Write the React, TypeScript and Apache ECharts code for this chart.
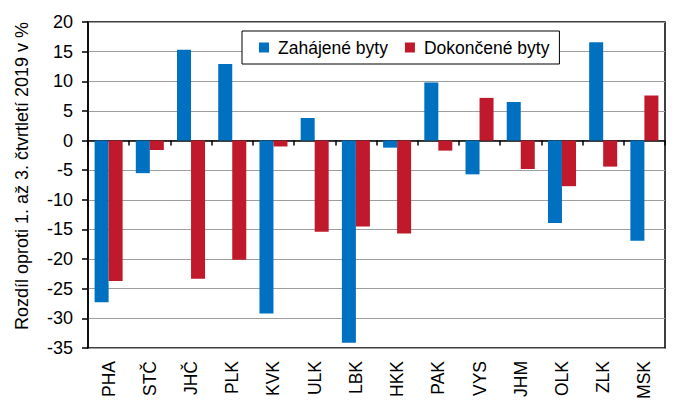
import React, { useEffect, useRef } from "react";
import * as echarts from "echarts";

const categories = ["PHA", "STČ", "JHČ", "PLK", "KVK", "ULK", "LBK", "HKK", "PAK", "VYS", "JHM", "OLK", "ZLK", "MSK"];
const zahajene = [-27.3, -5.5, 15.3, 12.9, -29.2, 3.8, -34.1, -1.2, 9.8, -5.7, 6.5, -13.9, 16.6, -16.9];
const dokoncene = [-23.7, -1.6, -23.3, -20.1, -1.0, -15.4, -14.5, -15.7, -1.7, 7.2, -4.8, -7.7, -4.4, 7.6];
const yAxisTitle = "Rozdíl oproti 1. až 3. čtvrtletí 2019 v %";

const FONT = "'Liberation Sans', Arial, sans-serif";

export default function App() {
  const ref = useRef<HTMLDivElement>(null);
  useEffect(() => {
    if (!ref.current) return;
    const chart = echarts.init(ref.current, undefined, { renderer: "svg" });
    chart.setOption({
      animation: false,
      textStyle: { fontFamily: FONT },
      grid: {
        left: 88,
        right: 10,
        top: 22,
        bottom: 55,
        show: true,
        borderColor: "#000",
        borderWidth: 1.5,
        backgroundColor: "transparent",
      },
      legend: {
        left: 242,
        top: 31,
        padding: [7, 10, 7, 17],
        backgroundColor: "#fff",
        borderColor: "#000",
        borderWidth: 1,
        itemGap: 17,
        itemWidth: 10,
        itemHeight: 10,
        icon: "rect",
        textStyle: { fontFamily: FONT, fontSize: 17.5, color: "#000", padding: [0, 0, 0, 4], lineHeight: 19 },
        data: ["Zahájené byty", "Dokončené byty"],
      },
      xAxis: [
        {
          type: "category",
          data: categories,
          axisLine: { onZero: true, lineStyle: { color: "#000", width: 1.5 } },
          axisTick: { show: true, length: 5, lineStyle: { color: "#000", width: 1.5 } },
          axisLabel: { show: false },
          splitLine: { show: false },
        },
        {
          type: "category",
          data: categories,
          position: "bottom",
          axisLine: { show: false, onZero: false },
          axisTick: { show: false },
          axisLabel: {
            show: true,
            rotate: 90,
            margin: 13,
            fontSize: 17.5,
            color: "#000",
            fontFamily: FONT,
          },
          splitLine: { show: false },
        },
      ],
      yAxis: {
        type: "value",
        min: -35,
        max: 20,
        interval: 5,
        axisLine: { show: true, lineStyle: { color: "#000", width: 1.5 } },
        axisTick: { show: true, length: 6, lineStyle: { color: "#000", width: 1.5 } },
        axisLabel: { fontSize: 18, color: "#000", margin: 15, fontFamily: FONT },
        splitLine: { show: true, lineStyle: { color: "#9e9e9e", width: 1 } },
      },
      graphic: [
        {
          type: "text",
          x: 22,
          y: 176,
          rotation: Math.PI / 2,
          style: {
            text: yAxisTitle,
            fontSize: 18,
            fontFamily: FONT,
            fill: "#000",
            align: "center",
            verticalAlign: "middle",
          },
        },
      ],
      series: [
        {
          name: "Zahájené byty",
          type: "bar",
          data: zahajene,
          barWidth: "34%",
          barGap: "0%",
          itemStyle: { color: "#0070c0" },
        },
        {
          name: "Dokončené byty",
          type: "bar",
          data: dokoncene,
          barWidth: "34%",
          barGap: "0%",
          itemStyle: { color: "#c0192b" },
        },
      ],
    });
    return () => chart.dispose();
  }, []);
  return <div ref={ref} style={{ width: 675, height: 403, position: "absolute", left: 0, top: 0 }} />;
}
